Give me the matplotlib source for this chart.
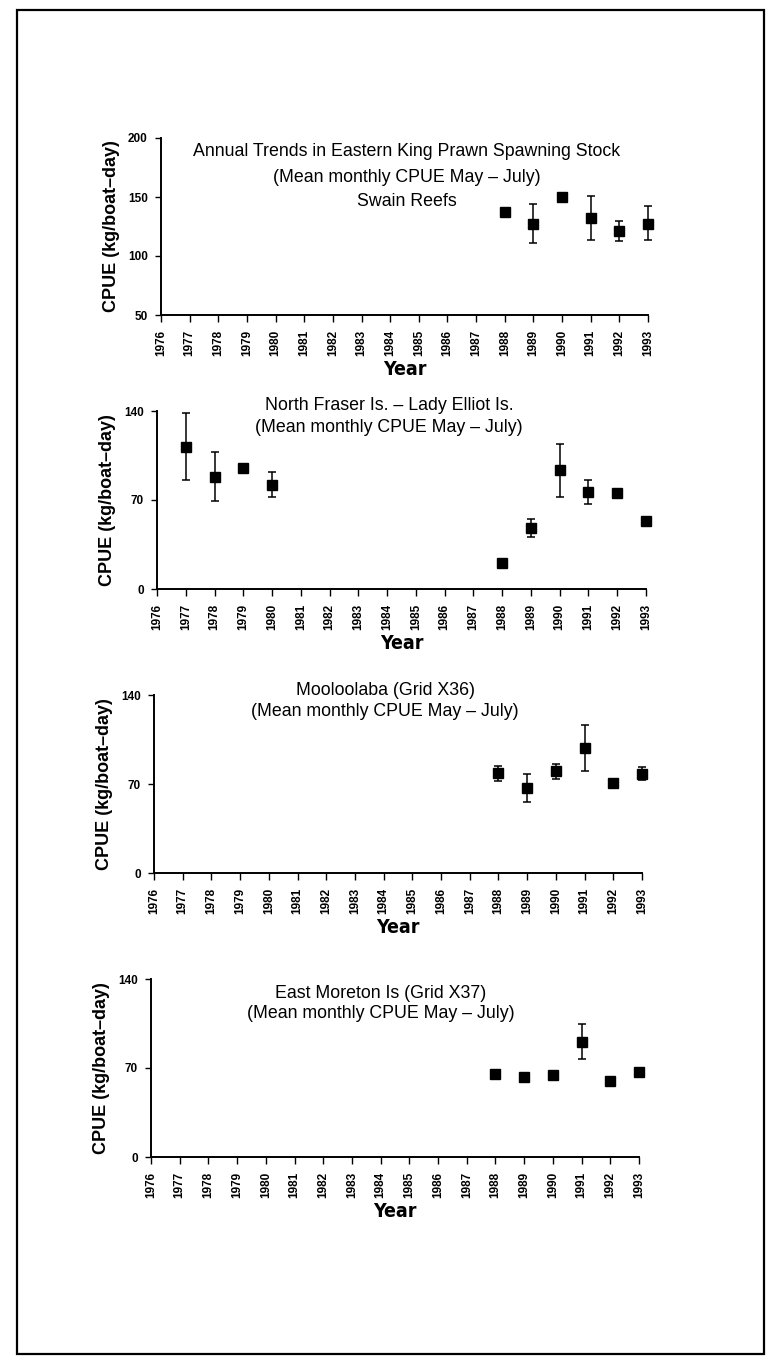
import numpy as np
import matplotlib.pyplot as plt
from matplotlib import font_manager
from matplotlib.font_manager import FontProperties
from matplotlib.patches import Rectangle

W, H = 770, 1358

years = list(range(1976, 1994))

# Swain Reefs
sw_year = [1988, 1989, 1990, 1991, 1992, 1993]
sw_cpue = [137, 127.4, 150, 132.2, 121, 127.4]
sw_lo = [0, 16, 0, 18.4, 8, 14]
sw_hi = [0, 16.6, 0, 18.8, 8.4, 14.6]

# North Fraser Is. - Lady Elliot Is.
nf_year = [1977, 1978, 1979, 1980, 1988, 1989, 1990, 1991, 1992, 1993]
nf_cpue = [112, 88.4, 95, 82, 20.4, 47.7, 93.6, 76.6, 75.3, 53.5]
nf_lo = [26.2, 19.2, 1.5, 9.9, 0, 7, 21, 9.7, 1, 0]
nf_hi = [26.7, 19.6, 1.5, 10.2, 0, 7.3, 20.2, 9.2, 1, 0]

# Mooloolaba (Grid X36)
mo_year = [1988, 1989, 1990, 1991, 1992, 1993]
mo_cpue = [78.6, 66.9, 79.9, 98.3, 70.8, 78.1]
mo_lo = [6, 11.4, 5.7, 18.4, 1, 5.2]
mo_hi = [5.3, 11.2, 5.8, 18.2, 1, 5.3]

# East Moreton Is (Grid X37)
em_year = [1988, 1989, 1990, 1991, 1992, 1993]
em_cpue = [65.3, 62.9, 64.2, 90.3, 59.7, 66.6]
em_lo = [0, 0, 1, 13.2, 0, 1]
em_hi = [0, 0, 1, 14, 0, 1]

dash = "\u2013"
panels = [
    dict(x=sw_year, y=sw_cpue, lo=sw_lo, hi=sw_hi, ylim=(50, 200), yt=[50, 100, 150, 200],
         box=(161, 648, 138, 315), tx=407, ty=[152, 177, 202],
         title=["Annual Trends in Eastern King Prawn Spawning Stock",
                "(Mean monthly CPUE May " + dash + " July)", "Swain Reefs"]),
    dict(x=nf_year, y=nf_cpue, lo=nf_lo, hi=nf_hi, ylim=(0, 140), yt=[0, 70, 140],
         box=(157, 646, 411, 589), tx=389, ty=[405, 427],
         title=["North Fraser Is. " + dash + " Lady Elliot Is.",
                "(Mean monthly CPUE May " + dash + " July)"]),
    dict(x=mo_year, y=mo_cpue, lo=mo_lo, hi=mo_hi, ylim=(0, 140), yt=[0, 70, 140],
         box=(154, 642, 695, 873), tx=385, ty=[690, 711],
         title=["Mooloolaba (Grid X36)", "(Mean monthly CPUE May " + dash + " July)"]),
    dict(x=em_year, y=em_cpue, lo=em_lo, hi=em_hi, ylim=(0, 140), yt=[0, 70, 140],
         box=(151, 639, 979, 1157), tx=381, ty=[993, 1013],
         title=["East Moreton Is (Grid X37)", "(Mean monthly CPUE May " + dash + " July)"]),
]

# narrow bold face for "Year" if one is installed
cond = [f.fname for f in font_manager.fontManager.ttflist
        if ("Narrow" in f.fname or "Condensed" in f.fname) and "Bold" in f.fname
        and "Oblique" not in f.fname and "Italic" not in f.fname]
if cond:
    year_fp = FontProperties(fname=sorted(cond)[0], size=14)
else:
    year_fp = FontProperties(family="Liberation Sans", weight="bold", size=13)

fig = plt.figure(figsize=(W / 100, H / 100), dpi=100)

for p in panels:
    l, r, t, b = p["box"]
    ax = fig.add_axes([l / W, 1 - b / H, (r - l) / W, (b - t) / H])
    ax.errorbar(p["x"], p["y"], yerr=[p["lo"], p["hi"]], fmt='s', color='black',
                ms=6.5, capsize=2.8, elinewidth=1.1, capthick=1.1, clip_on=False)
    ax.set_xlim(1976, 1993)
    ax.set_ylim(*p["ylim"])
    ax.set_xticks(years)
    ax.set_xticklabels([str(y) for y in years], rotation=90, fontsize=8.5,
                       fontweight='bold', family='Liberation Sans')
    ax.set_yticks(p["yt"])
    ax.set_yticklabels([str(v) for v in p["yt"]], fontsize=8.5, fontweight='bold',
                       family='Liberation Sans')
    ax.tick_params(axis='x', direction='out', length=5, width=1, pad=5.5)
    ax.tick_params(axis='y', direction='out', length=4.5, width=1, pad=5)
    for s in ["top", "right"]:
        ax.spines[s].set_visible(False)
    for s in ["left", "bottom"]:
        ax.spines[s].set_linewidth(1.4)
    ax.set_ylabel("CPUE (kg/boat" + dash + "day)", fontsize=13, fontweight='bold',
                  family='Liberation Sans', labelpad=6)
    ax.set_xlabel("Year", fontproperties=year_fp, labelpad=3)
    for line, yy in zip(p["title"], p["ty"]):
        ax.text((p["tx"] - l) / (r - l), (b - yy) / (b - t), line, transform=ax.transAxes,
                ha='center', va='center', fontsize=12.8, family='Liberation Sans')

fig.add_artist(Rectangle((17 / W, 1 - 1354 / H), (764 - 17) / W, (1354 - 10) / H,
                         transform=fig.transFigure, fill=False, lw=1.6, ec='black'))

fig.savefig("out.png", dpi=100)
